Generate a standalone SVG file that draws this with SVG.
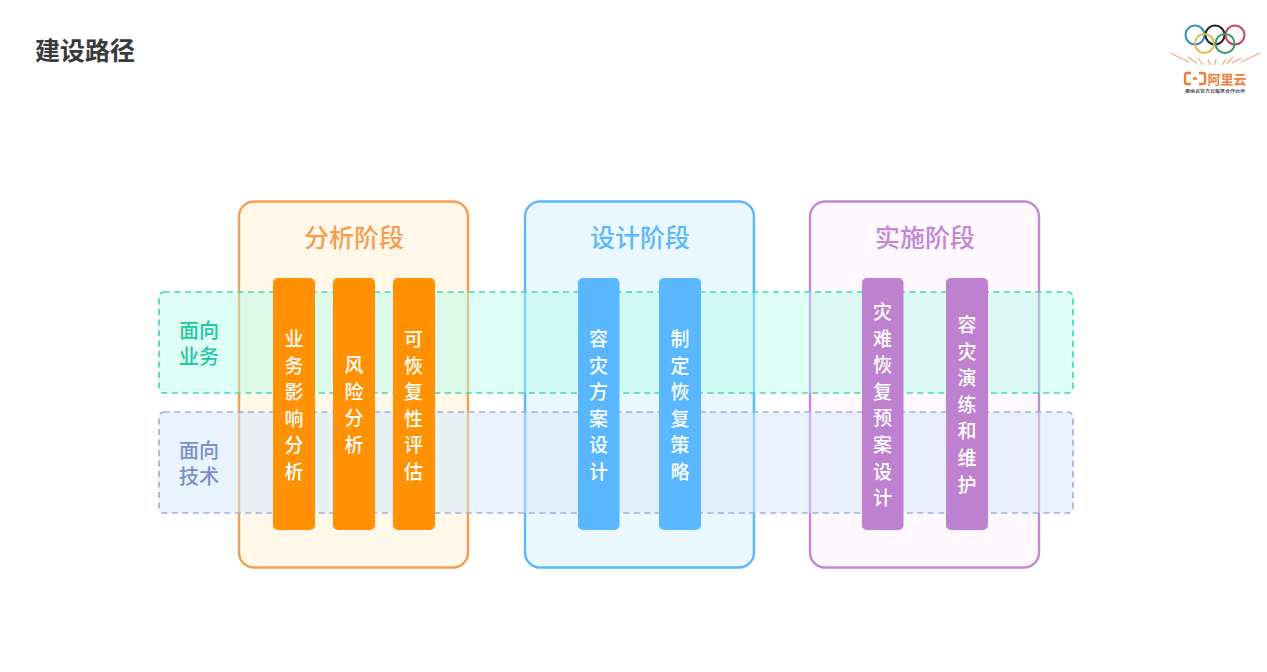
<svg xmlns="http://www.w3.org/2000/svg" width="1267" height="672" viewBox="0 0 1267 672">
<style>
text{font-family:"Noto Sans CJK SC","Noto Sans",sans-serif}
.page-title{font-size:25px;font-weight:700;fill:#3a3a3a}
.phase{stroke-width:2.4}
.phase-title{font-size:25px;font-weight:500;text-anchor:middle}
.band{stroke-width:1.7;stroke-dasharray:6 4.500}
.band-label{font-size:20px;font-weight:500;text-anchor:middle}
.bar-label{font-size:19px;font-weight:500;fill:#fff;text-anchor:middle}
.ring{fill:none;stroke-width:2}
.ray{stroke:#f6a882;stroke-width:1.2;fill:none}
</style>

<text class="page-title" x="35" y="60">建设路径</text>

<g id="logo">
<circle class="ring" cx="1195" cy="35" r="9.500" stroke="#2f8fc0"/>
<circle class="ring" cx="1215" cy="35" r="9.500" stroke="#222"/>
<circle class="ring" cx="1235" cy="35" r="9.500" stroke="#c8405c"/>
<circle class="ring" cx="1204.500" cy="43.500" r="9.500" stroke="#e5b94c"/>
<circle class="ring" cx="1225" cy="43.500" r="9.500" stroke="#3c9a68"/>
<path class="ray" d="M1170 53 1189 62M1188 57 1197 63M1198 58 1203 65M1208 59 1210 65M1216 59 1215 65M1226 59 1222 65M1233 57 1227 64M1241 58 1232 63M1260 53 1241 62"/>
<path d="M1191 73h-4q-2 0-2 2v7q0 2 2 2h4M1193 78.500h4M1199 73h4q2 0 2 2v7q0 2-2 2h-4" fill="none" stroke="#ef7d3c" stroke-width="2.400"/>
<text x="1207.500" y="84" font-size="13" font-weight="700" fill="#ef7d3c">阿里云</text>
<text x="1185" y="93" font-size="4" font-weight="700" fill="#555" textLength="60" lengthAdjust="spacingAndGlyphs">奥运会官方云服务合作伙伴</text>
</g>

<g id="phase-analysis">
<rect class="phase" x="239" y="201.500" width="229" height="366" rx="15" fill="#fff8e9" stroke="#f79d52"/>
<text class="phase-title" x="354" y="247" fill="#f79d52">分析阶段</text>
</g>
<g id="phase-design">
<rect class="phase" x="525" y="201.500" width="229" height="366" rx="15" fill="#eaf7fe" stroke="#5cb8fa"/>
<text class="phase-title" x="640" y="247" fill="#5cb8fa">设计阶段</text>
</g>
<g id="phase-delivery">
<rect class="phase" x="810" y="201.500" width="229" height="366" rx="15" fill="#fef7fe" stroke="#c288d2"/>
<text class="phase-title" x="925" y="247" fill="#c288d2">实施阶段</text>
</g>

<g id="band-business">
<rect class="band" x="159" y="292" width="914" height="101" rx="5" fill="#b4fbe9" fill-opacity=".45" stroke="#3fd9b8"/>
<text class="band-label" fill="#1fc8a0"><tspan x="199" y="338">面向</tspan><tspan x="199" y="364">业务</tspan></text>
</g>
<g id="band-technology">
<rect class="band" x="159" y="412" width="914" height="101" rx="5" fill="#d3e8fd" fill-opacity=".5" stroke="#9fb0de"/>
<text class="band-label" fill="#7a8fc8"><tspan x="199" y="458">面向</tspan><tspan x="199" y="484">技术</tspan></text>
</g>

<g id="task-impact">
<rect x="273" y="278" width="42" height="252" rx="5" fill="#ff9102"/>
<text class="bar-label" y="319"><tspan x="294" dy="27">业</tspan><tspan x="294" dy="26.600">务</tspan><tspan x="294" dy="26.600">影</tspan><tspan x="294" dy="26.600">响</tspan><tspan x="294" dy="26.600">分</tspan><tspan x="294" dy="26.600">析</tspan></text>
</g>
<g id="task-risk">
<rect x="333" y="278" width="42" height="252" rx="5" fill="#ff9102"/>
<text class="bar-label" y="345"><tspan x="354" dy="27">风</tspan><tspan x="354" dy="26.600">险</tspan><tspan x="354" dy="26.600">分</tspan><tspan x="354" dy="26.600">析</tspan></text>
</g>
<g id="task-recoverability">
<rect x="393" y="278" width="42" height="252" rx="5" fill="#ff9102"/>
<text class="bar-label" y="319"><tspan x="413.500" dy="27">可</tspan><tspan x="413.500" dy="26.600">恢</tspan><tspan x="413.500" dy="26.600">复</tspan><tspan x="413.500" dy="26.600">性</tspan><tspan x="413.500" dy="26.600">评</tspan><tspan x="413.500" dy="26.600">估</tspan></text>
</g>
<g id="task-solution">
<rect x="578" y="278" width="41.500" height="252" rx="5" fill="#58b7ff"/>
<text class="bar-label" y="319"><tspan x="598.500" dy="27">容</tspan><tspan x="598.500" dy="26.600">灾</tspan><tspan x="598.500" dy="26.600">方</tspan><tspan x="598.500" dy="26.600">案</tspan><tspan x="598.500" dy="26.600">设</tspan><tspan x="598.500" dy="26.600">计</tspan></text>
</g>
<g id="task-strategy">
<rect x="659" y="278" width="42" height="252" rx="5" fill="#58b7ff"/>
<text class="bar-label" y="319"><tspan x="680" dy="27">制</tspan><tspan x="680" dy="26.600">定</tspan><tspan x="680" dy="26.600">恢</tspan><tspan x="680" dy="26.600">复</tspan><tspan x="680" dy="26.600">策</tspan><tspan x="680" dy="26.600">略</tspan></text>
</g>
<g id="task-plan">
<rect x="862" y="278" width="41.500" height="252" rx="5" fill="#bd81d0"/>
<text class="bar-label" y="292"><tspan x="882.500" dy="27">灾</tspan><tspan x="882.500" dy="26.600">难</tspan><tspan x="882.500" dy="26.600">恢</tspan><tspan x="882.500" dy="26.600">复</tspan><tspan x="882.500" dy="26.600">预</tspan><tspan x="882.500" dy="26.600">案</tspan><tspan x="882.500" dy="26.600">设</tspan><tspan x="882.500" dy="26.600">计</tspan></text>
</g>
<g id="task-drill">
<rect x="946" y="278" width="42" height="252" rx="5" fill="#bd81d0"/>
<text class="bar-label" y="305"><tspan x="967" dy="27">容</tspan><tspan x="967" dy="26.600">灾</tspan><tspan x="967" dy="26.600">演</tspan><tspan x="967" dy="26.600">练</tspan><tspan x="967" dy="26.600">和</tspan><tspan x="967" dy="26.600">维</tspan><tspan x="967" dy="26.600">护</tspan></text>
</g>

<g id="connectors"></g>
</svg>
